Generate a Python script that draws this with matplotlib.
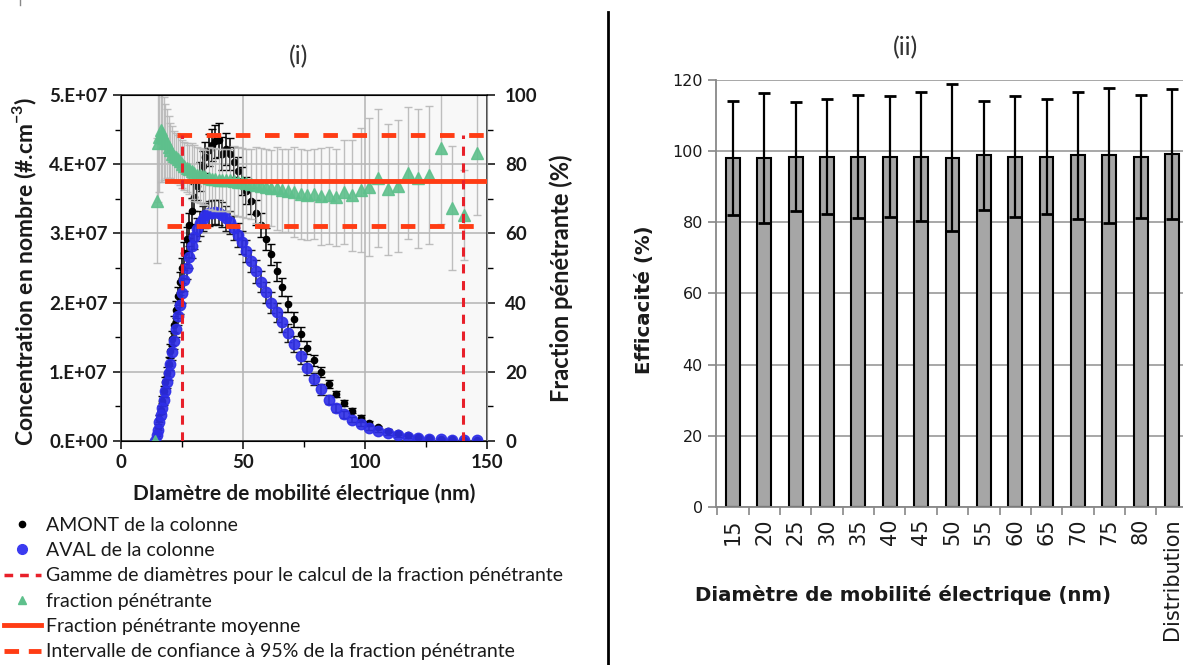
import matplotlib
matplotlib.use("Agg")
import matplotlib.pyplot as plt
from matplotlib.lines import Line2D
from matplotlib.ticker import MultipleLocator, FuncFormatter

plt.rcParams['font.family'] = ['Lato', 'DejaVu Sans']
plt.rcParams['mathtext.fontset'] = 'custom'
plt.rcParams['mathtext.rm'] = 'Lato'
plt.rcParams['mathtext.bf'] = 'Lato:bold'

# --- (i) SMPS channels (nm) ---
diam = [14.1, 14.6, 15.1, 15.7, 16.3, 16.8, 17.5, 18.1, 18.8, 19.5,
        20.2, 20.9, 21.7, 22.5, 23.3, 24.1, 25.0, 25.9, 26.9, 27.9,
        28.9, 30.0, 31.1, 32.2, 33.4, 34.6, 35.9, 37.2, 38.5, 40.0,
        41.4, 42.9, 44.5, 46.1, 47.8, 49.6, 51.4, 53.3, 55.2, 57.3,
        59.4, 61.5, 63.8, 66.1, 68.5, 71.0, 73.7, 76.4, 79.1, 82.0,
        85.1, 88.2, 91.4, 94.7, 98.2, 101.8, 105.5, 109.4, 113.4, 117.6,
        121.9, 126.3, 131.0, 135.8, 140.7, 145.9]

# concentrations in units of 1e7 #/cm3
amont = [0.0, 0.1, 0.2, 0.32, 0.45, 0.58, 0.72, 0.85, 0.98, 1.12,
         1.3, 1.48, 1.68, 1.9, 2.1, 2.3, 2.5, 2.72, 2.92, 3.12,
         3.32, 3.52, 3.68, 3.82, 3.97, 4.1, 4.2, 4.28, 4.33, 4.35,
         4.15, 4.22, 4.15, 4.03, 3.9, 3.76, 3.62, 3.47, 3.3, 3.12,
         2.92, 2.7, 2.45, 2.22, 1.98, 1.76, 1.55, 1.35, 1.17, 1.0,
         0.82, 0.68, 0.55, 0.44, 0.34, 0.26, 0.2, 0.15, 0.11, 0.08,
         0.06, 0.045, 0.035, 0.025, 0.02, 0.015]
amont_err = [0.02, 0.03, 0.04, 0.05, 0.06, 0.07, 0.08, 0.08, 0.09, 0.1,
             0.1, 0.11, 0.12, 0.12, 0.13, 0.14, 0.15, 0.16, 0.17, 0.18,
             0.19, 0.2, 0.2, 0.21, 0.22, 0.22, 0.23, 0.23, 0.24, 0.24,
             0.24, 0.23, 0.23, 0.22, 0.21, 0.2, 0.2, 0.19, 0.18, 0.17,
             0.16, 0.15, 0.14, 0.13, 0.12, 0.11, 0.1, 0.09, 0.08, 0.07,
             0.06, 0.05, 0.05, 0.04, 0.03, 0.03, 0.02, 0.02, 0.02, 0.01,
             0.01, 0.01, 0.01, 0.01, 0.01, 0.01]
aval = [0.0, 0.08, 0.16, 0.27, 0.38, 0.48, 0.6, 0.72, 0.85, 0.98,
        1.12, 1.28, 1.45, 1.62, 1.8, 1.97, 2.14, 2.32, 2.5, 2.66,
        2.82, 2.95, 3.06, 3.15, 3.21, 3.26, 3.29, 3.3, 3.31, 3.3,
        3.27, 3.22, 3.16, 3.08, 2.98, 2.87, 2.75, 2.6, 2.45, 2.3,
        2.15, 2.0, 1.86, 1.72, 1.56, 1.4, 1.23, 1.06, 0.9, 0.75,
        0.6, 0.48, 0.39, 0.31, 0.24, 0.19, 0.15, 0.11, 0.08, 0.06,
        0.045, 0.035, 0.025, 0.02, 0.015, 0.012]
aval_err = [0.02, 0.03, 0.04, 0.05, 0.06, 0.07, 0.08, 0.08, 0.09, 0.1,
            0.1, 0.11, 0.12, 0.12, 0.13, 0.14, 0.15, 0.15, 0.16, 0.16,
            0.17, 0.17, 0.17, 0.18, 0.18, 0.18, 0.18, 0.18, 0.18, 0.18,
            0.18, 0.18, 0.17, 0.17, 0.17, 0.17, 0.16, 0.16, 0.16, 0.15,
            0.15, 0.15, 0.14, 0.14, 0.13, 0.12, 0.11, 0.1, 0.09, 0.08,
            0.07, 0.06, 0.05, 0.04, 0.03, 0.03, 0.02, 0.02, 0.02, 0.01,
            0.01, 0.01, 0.01, 0.01, 0.01, 0.01]
# penetrating fraction (%)
frac = [0, 69.5, 86, 88, 90, 89, 87.5, 86.5, 86, 85,
        84, 83, 82.5, 82, 81.5, 81, 80, 79.5, 79, 78.5,
        78, 77.5, 77, 76.8, 76.5, 76.2, 76, 75.8, 75.6, 75.5,
        75.5, 75.4, 75.3, 75.2, 75.0, 74.8, 74.5, 74.3, 74.0, 73.8,
        73.5, 73.2, 73.0, 72.5, 72.3, 72.0, 71.5, 71.2, 71.5, 70.8,
        71.0, 70.5, 72.0, 71.0, 72.5, 73.5, 76.0, 72.7, 73.7, 77.4,
        75.9, 76.9, 84.6, 67.3, 65.3, 83.2]
frac_err = [0, 18, 17, 16, 15, 14, 12, 11, 10, 9,
            8, 8, 7, 7, 7, 7, 7, 7, 7, 7,
            8, 8, 8, 8, 8, 8, 9, 9, 9, 9,
            9, 9, 9, 10, 10, 10, 10, 10, 11, 11,
            11, 11, 12, 12, 12, 13, 13, 13, 13, 14,
            14, 14, 15, 16, 18, 20, 20, 19, 19, 19,
            20, 20, 22, 18, 13, 18]
frac_mean = 75.1
ci_low, ci_high = 62.1, 88.4
d_min, d_max = 25, 140
line_start, upper_start, x_end = 19, 23, 150

# --- (ii) efficiency per diameter ---
cats = ['15', '20', '25', '30', '35', '40', '45', '50', '55', '60',
        '65', '70', '75', '80', 'Distribution']
eff = [98.0, 98.0, 98.5, 98.5, 98.5, 98.5, 98.5, 98.2, 98.8, 98.5,
       98.5, 98.8, 98.8, 98.5, 99.3]
eff_err = [16, 18.3, 15.4, 16.2, 17.3, 17, 18, 20.7, 15.2, 17,
           16.2, 17.8, 19, 17.3, 18.3]

fig = plt.figure(figsize=(11.83, 6.65), dpi=100)

red = '#ff3c14'
vred = '#e8202a'
green = '#5ec08c'
txt = '#1a1a1a'

ax = fig.add_axes([0.1023, 0.3368, 0.3094, 0.5203])
ax.set_facecolor('#f8f8f8')
ax.errorbar(diam, [v * 1e7 for v in amont], yerr=[e * 1e7 for e in amont_err],
            fmt='o', ms=4.5, color='black', ecolor='black', elinewidth=1.1,
            capsize=3, zorder=3)
ax.errorbar(diam, [v * 1e7 for v in aval], yerr=[e * 1e7 for e in aval_err],
            fmt='o', ms=7.5, mfc='#2e2ee8', mec='#2e2ee8', ecolor='black',
            elinewidth=1.1, capsize=3, alpha=0.9, zorder=4)
ax.set_xlim(0, 150)
ax.set_ylim(0, 5e7)
ax.xaxis.set_major_locator(MultipleLocator(50))
ax.xaxis.set_minor_locator(MultipleLocator(25))
ax.yaxis.set_major_locator(MultipleLocator(1e7))
ax.yaxis.set_minor_locator(MultipleLocator(5e6))
ax.yaxis.set_major_formatter(FuncFormatter(
    lambda v, p: '0.E+00' if v == 0 else f'{int(round(v / 1e7))}.E+07'))
ax.grid(which='major', color='#b4b4b4', lw=1.1)
ax.set_axisbelow(True)
for s in ax.spines.values():
    s.set_color('#404040')
    s.set_linewidth(1.3)
ax.tick_params(which='major', length=6, width=1.2, labelsize=13.5, colors=txt)
ax.tick_params(which='minor', length=4, width=1)
for t in ax.get_xticklabels() + ax.get_yticklabels():
    t.set_fontweight('bold')
ax.set_ylabel('Concentration en nombre (#.cm$^{\\mathbf{-3}}$)', fontsize=16.5,
              fontweight='bold', color=txt)
ax.yaxis.set_label_coords(-0.225, 0.49)
ax.set_xlabel('DIamètre de mobilité électrique (nm)', fontsize=15,
              fontweight='bold', color=txt)
ax.xaxis.set_label_coords(0.5, -0.122)
ax.set_title('(i)', fontsize=18, color='#333333', pad=22, x=0.484)

ax2 = ax.twinx()
ax2.errorbar(diam, frac, yerr=frac_err, fmt='^', ms=8.5, mfc=green, mec=green,
             ecolor='#b8b8b8', elinewidth=1, capsize=3, alpha=0.9, zorder=2)
ax2.plot([line_start, x_end], [frac_mean, frac_mean], color=red, lw=3.5, zorder=3)
ax2.plot([upper_start, x_end], [ci_high, ci_high], color=red, lw=3.5,
         ls=(0, (3, 3)), zorder=3)
ax2.plot([line_start, x_end], [ci_low, ci_low], color=red, lw=3.5,
         ls=(0, (3, 3)), zorder=3)
for d in (d_min, d_max):
    ax2.plot([d, d], [0, ci_high], color=vred, lw=2.2, ls=(0, (3, 2.5)), zorder=3)
ax2.set_ylim(0, 100)
ax2.set_xlim(0, 150)
ax2.yaxis.set_major_locator(MultipleLocator(20))
ax2.yaxis.set_minor_locator(MultipleLocator(10))
ax2.spines['right'].set_color('#909090')
ax2.tick_params(which='major', length=6, width=1.2, labelsize=13.5, colors=txt,
                pad=7)
ax2.tick_params(which='minor', length=4, width=1)
for t in ax2.get_yticklabels():
    t.set_fontweight('bold')
ax2.set_ylabel('Fraction pénétrante (%)', fontsize=17, fontweight='bold', color=txt)
ax2.yaxis.set_label_coords(1.17, 0.47)

handles = [
    Line2D([], [], ls='none', marker='o', ms=4.5, color='black'),
    Line2D([], [], ls='none', marker='o', ms=7, color='#3b3bf0'),
    Line2D([], [], color=vred, lw=2.5, ls=(0, (2.5, 2))),
    Line2D([], [], ls='none', marker='^', ms=6, color=green),
    Line2D([], [], color=red, lw=3.5),
    Line2D([], [], color=red, lw=3.5, ls=(0, (3, 2))),
]
labels = ['AMONT de la colonne', 'AVAL de la colonne',
          'Gamme de diamètres pour le calcul de la fraction pénétrante',
          'fraction pénétrante', 'Fraction pénétrante moyenne',
          'Intervalle de confiance à 95% de la fraction pénétrante']
leg = fig.legend(handles, labels, loc='upper left', bbox_to_anchor=(0.0, 0.229),
                 frameon=False, fontsize=14, handlelength=1.9, handletextpad=0.25,
                 labelspacing=0.43, borderpad=0.2, borderaxespad=0.0)
for t in leg.get_texts():
    t.set_color(txt)

# --- (ii) ---
axb = fig.add_axes([0.6052, 0.2376, 0.3948, 0.6421])
xs = list(range(len(cats)))
axb.bar(xs, eff, width=0.44, color='#a6a6a6', edgecolor='black', lw=1.5, zorder=2)
axb.errorbar(xs, eff, yerr=eff_err, fmt='none', ecolor='black', elinewidth=1.6,
             capsize=4, capthick=2, zorder=3)
axb.set_xlim(-0.54, 14.35)
axb.set_ylim(0, 120)
axb.yaxis.set_major_locator(MultipleLocator(20))
axb.grid(axis='y', color='#a0a0a0', lw=1.3)
axb.set_axisbelow(True)
axb.set_xticks(xs)
axb.set_xticklabels(cats, rotation=90)
axb.set_xticks([k - 0.5 for k in xs], minor=True)
axb.tick_params(axis='x', which='major', length=0, pad=8, labelsize=15,
                labelfontfamily='DejaVu Sans', labelcolor=txt)
axb.tick_params(axis='x', which='minor', length=6, width=1.2, color='#888888')
axb.tick_params(axis='y', length=6, width=1.2, color='#888888', labelsize=11.5,
                labelfontfamily='DejaVu Sans', labelcolor=txt)
for s in ('top', 'right'):
    axb.spines[s].set_visible(False)
for s in ('left', 'bottom'):
    axb.spines[s].set_color('#888888')
    axb.spines[s].set_linewidth(1.3)
axb.set_ylabel('Efficacité (%)', fontsize=14.2, fontweight='bold',
               family='DejaVu Sans', color=txt)
axb.yaxis.set_label_coords(-0.133, 0.485)
axb.set_xlabel('Diamètre de mobilité électrique (nm)', fontsize=14.2,
               fontweight='bold', family='DejaVu Sans', color=txt)
axb.xaxis.set_label_coords(0.40, -0.183)
axb.set_title('(ii)', fontsize=18, color='#333333', pad=18, x=0.405)

fig.add_artist(Line2D([0.514, 0.514], [0.0, 0.982], transform=fig.transFigure,
                      color='black', lw=2))
fig.add_artist(Line2D([0.0169, 0.0169], [0.992, 1.0], transform=fig.transFigure,
                      color='#888888', lw=1))

fig.savefig('out.png', dpi=100)
